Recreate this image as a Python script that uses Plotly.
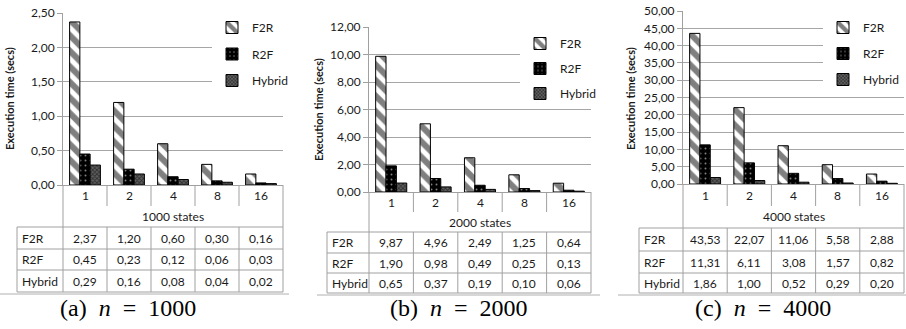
import plotly.graph_objects as go

W, H = 906, 329

categories = ["1", "2", "4", "8", "16"]
series_names = ["F2R", "R2F", "Hybrid"]

f2r_1000 = [2.37, 1.20, 0.60, 0.30, 0.16]
r2f_1000 = [0.45, 0.23, 0.12, 0.06, 0.03]
hyb_1000 = [0.29, 0.16, 0.08, 0.04, 0.02]

f2r_2000 = [9.87, 4.96, 2.49, 1.25, 0.64]
r2f_2000 = [1.90, 0.98, 0.49, 0.25, 0.13]
hyb_2000 = [0.65, 0.37, 0.19, 0.10, 0.06]

f2r_4000 = [43.53, 22.07, 11.06, 5.58, 2.88]
r2f_4000 = [11.31, 6.11, 3.08, 1.57, 0.82]
hyb_4000 = [1.86, 1.00, 0.52, 0.29, 0.20]

state_labels = ["1000 states", "2000 states", "4000 states"]
captions = ["(a)", "(b)", "(c)"]
n_values = ["1000", "2000", "4000"]


def px(x):
    return x / W


def py(y):
    return 1 - y / H


GRID = "#a6a6a6"
LINE = "#a0a0a0"
TXT = "#1a1a1a"
FONT = "Lato"

panels = [
    dict(data=[f2r_1000, r2f_1000, hyb_1000], x0=63, x1=283, ytop=13, ybot=185, hx=17,
         rows=[185, 206, 227, 249, 270, 292], ymax=2.5, dtick=0.5,
         tx=9, ty=99, cx=128, leg=(212, 13), gap=7.5, sep=(0, 289)),
    dict(data=[f2r_2000, r2f_2000, hyb_2000], x0=369, x1=591, ytop=27, ybot=192, hx=327,
         rows=[192, 212, 232, 253, 273, 293], ymax=12, dtick=2,
         tx=318, ty=110, cx=459, leg=(520, 29), gap=6, sep=(317, 600)),
    dict(data=[f2r_4000, r2f_4000, hyb_4000], x0=683, x1=904, ytop=11, ybot=184, hx=639,
         rows=[184, 206, 228, 251, 273, 293], ymax=50, dtick=5,
         tx=630, ty=99, cx=763, leg=(823, 13), gap=7, sep=(618, 906)),
]

patterns = [
    dict(shape="\\", fgcolor="black", bgcolor="white", size=11, solidity=0.55),
    dict(shape=".", fgcolor="white", bgcolor="black", size=5, solidity=0.12),
    dict(shape="x", fgcolor="black", bgcolor="#606060", size=3, solidity=0.5),
]

fig = go.Figure()
shapes = []
annotations = []
layout = {}


def note(text, x, y, xref="paper", xanchor="center", size=12, **kw):
    d = dict(text=text, x=x, y=y, xref=xref, yref="paper",
             xanchor=xanchor, yanchor="middle", showarrow=False,
             font=dict(family=kw.pop("family", FONT), size=size,
                       color=kw.pop("color", TXT)))
    d.update(kw)
    annotations.append(d)


for i, p in enumerate(panels):
    sfx = "" if i == 0 else str(i + 1)
    xa, ya = "x" + sfx, "y" + sfx
    legname = "legend" + sfx
    for j, name in enumerate(series_names):
        fig.add_trace(go.Bar(
            x=categories, y=p["data"][j], name=name,
            xaxis=xa, yaxis=ya, legend=legname,
            legendgroup=f"g{i}{j}",
            marker=dict(color="white" if j == 0 else "black",
                        pattern=patterns[j],
                        line=dict(color="black", width=1)),
        ))
    layout["xaxis" + sfx] = dict(
        domain=[px(p["x0"]), px(p["x1"])], anchor=ya, type="category",
        categoryorder="array", categoryarray=categories,
        range=[-0.5, len(categories) - 0.5], autorange=False,
        showticklabels=False, ticks="", showgrid=False, showline=True,
        linecolor=LINE, linewidth=1, fixedrange=True,
    )
    layout["yaxis" + sfx] = dict(
        domain=[py(p["ybot"]), py(p["ytop"])], anchor=xa,
        range=[0, p["ymax"]], dtick=p["dtick"], tickformat=".2f",
        showgrid=True, gridcolor=GRID, gridwidth=1, zeroline=False,
        showline=True, linecolor=LINE, linewidth=1,
        ticks="outside", ticklen=5, tickcolor=LINE,
        tickfont=dict(family=FONT, size=12, color=TXT),
    )
    lx, ly = p["leg"]
    layout[legname] = dict(
        x=px(lx), y=py(ly), xanchor="left", yanchor="top",
        bgcolor="white", borderwidth=0, tracegroupgap=p["gap"],
        traceorder="grouped", itemwidth=30,
        font=dict(family=FONT, size=12, color=TXT),
    )

    # y-axis title
    note("<b>Execution time (secs)</b>", px(p["tx"]), py(p["ty"]),
         size=11, textangle=-90)

    r = p["rows"]
    x0, x1, hx = p["x0"], p["x1"], p["hx"]
    w = (x1 - x0) / len(categories)

    def line(xa_, ya_, xb_, yb_, color=LINE):
        shapes.append(dict(type="line", xref="paper", yref="paper",
                           x0=px(xa_), y0=py(ya_), x1=px(xb_), y1=py(yb_),
                           line=dict(color=color, width=1)))

    # table frame
    line(x0, r[0], x0, r[5])
    line(x1, r[0], x1, r[5])
    line(hx, r[2], hx, r[5])
    for k in range(1, len(categories)):
        xk = x0 + k * w
        line(xk, r[0], xk, r[1])
        line(xk, r[2], xk, r[5])
    for rr in r[2:]:
        line(hx, rr, x1, rr)
    # separator under the figure
    line(p["sep"][0], r[5] + 2, p["sep"][1], r[5] + 2, color="#b0b0b0")

    # category labels (positioned by category index on the x axis)
    for k, c in enumerate(categories):
        note(c, k, py((r[0] + r[1]) / 2), xref=xa)
    note(state_labels[i], px((x0 + x1) / 2), py((r[1] + r[2]) / 2))
    for j, name in enumerate(series_names):
        yc = py((r[2 + j] + r[3 + j]) / 2)
        note(name, px(hx + 3), yc, xanchor="left")
        for k, v in enumerate(p["data"][j]):
            note(f"{v:.2f}".replace(".", ","), k, yc, xref=xa)

    # caption
    sp = "&nbsp;&nbsp;"
    note(f"{captions[i]}{sp}<i>n</i>{sp}={sp}{n_values[i]}", px(p["cx"]), py(308),
         size=24, family="Liberation Serif", color="black")

fig.update_layout(
    width=W, height=H, autosize=False,
    margin=dict(l=0, r=0, t=0, b=0, pad=0, autoexpand=False),
    paper_bgcolor="white", plot_bgcolor="white",
    barmode="group", bargap=0.3, bargroupgap=0,
    separators=",.",
    shapes=shapes, annotations=annotations,
    **layout,
)

fig.write_html("out.html")
